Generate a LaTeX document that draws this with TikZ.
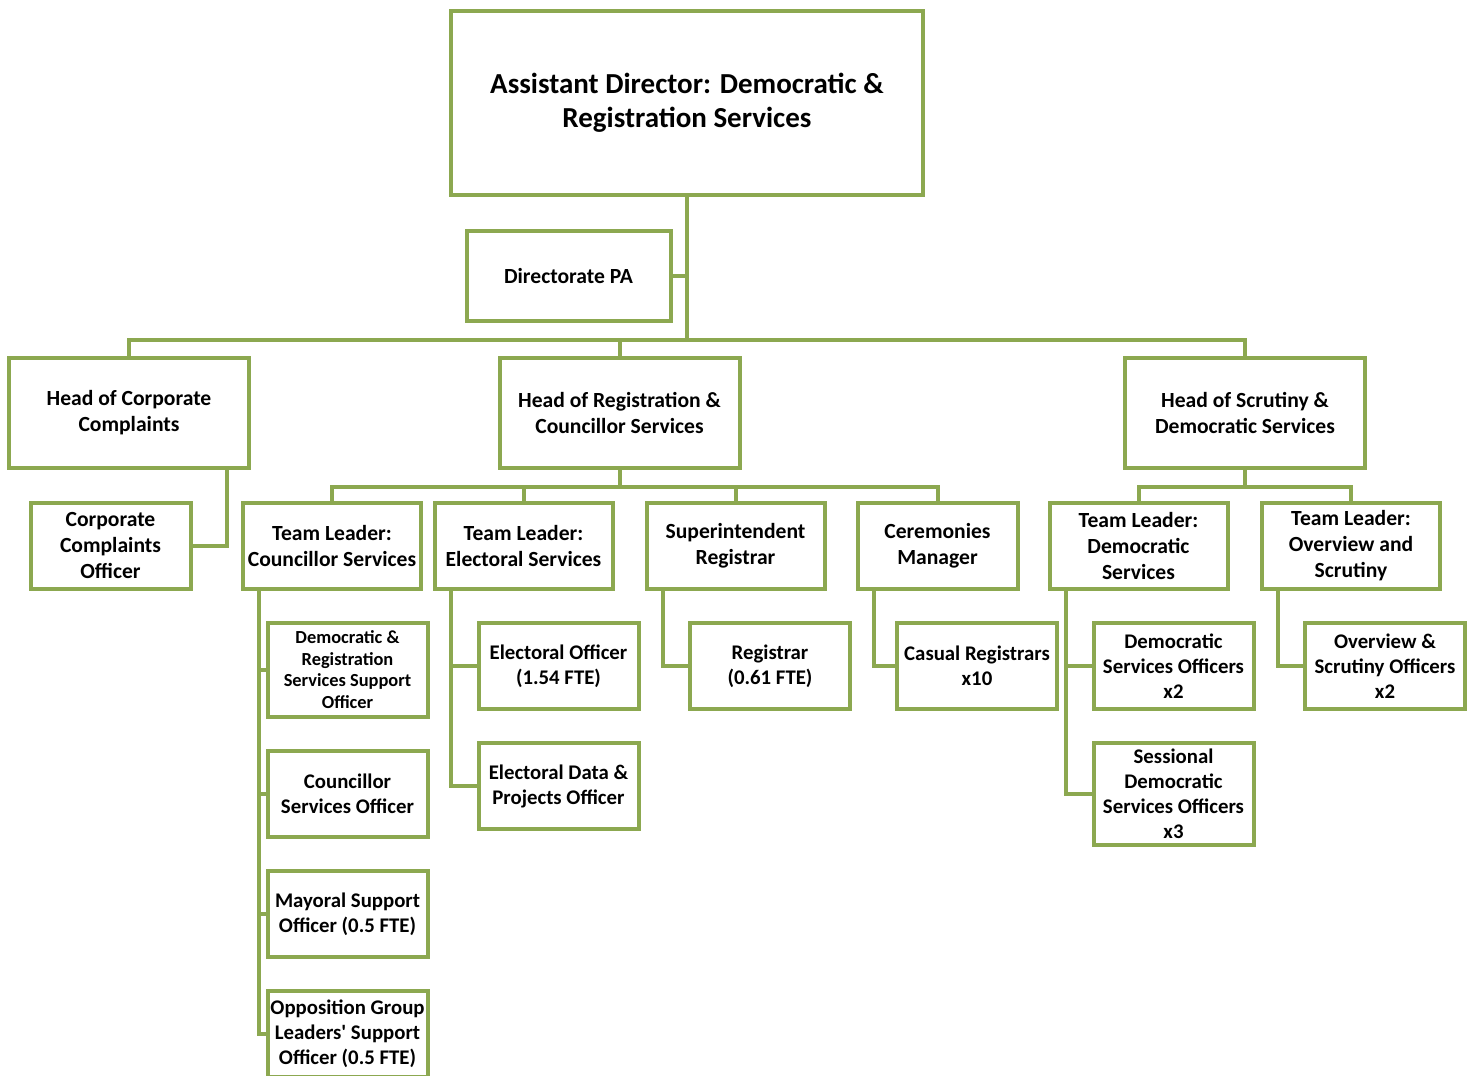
\documentclass[tikz,border=0pt]{standalone}
\usepackage{fontspec}
\setmainfont{Carlito}
\usepackage{xcolor}
\usepackage{tikz}
\usetikzlibrary{calc, positioning}

\definecolor{boxgreen}{RGB}{140,168,80}

\begin{document}
\begin{tikzpicture}[x=0.5pt, y=-0.5pt,
    box/.style={draw=boxgreen, line width=2pt, fill=white, align=center,
        inner sep=0pt, font=\bfseries\fontsize{10.8}{13}\selectfont},
    smallbox/.style={box, minimum width=80pt, minimum height=43pt,
        font=\bfseries\fontsize{10.4}{12.5}\selectfont},
    conn/.style={draw=boxgreen, line width=2pt}]

    \useasboundingbox (0,0) rectangle (1476,1075);

    % =================================================================
    % 1. TOP LEVEL
    % =================================================================
    \node[box, minimum width=236pt, minimum height=92pt,
        font=\bfseries\fontsize{14.5}{17}\selectfont] (ad) at (687,103)
        {Assistant Director: Democratic \&\\Registration Services};
    \node[box, minimum width=102pt, minimum height=45pt] (pa) at (568.5,276) {Directorate PA};

    % =================================================================
    % 2. HEADS OF SERVICE
    % =================================================================
    \node[box, minimum width=120pt, minimum height=55pt] (hcc) at (129,412.5)
        {Head of Corporate\\Complaints};
    \node[box, minimum width=120pt, minimum height=55pt] (hrc) at (619.5,412.5)
        {Head of Registration \&\\Councillor Services};
    \node[box, minimum width=120pt, minimum height=55pt] (hsd) at (1245,412.5)
        {Head of Scrutiny \&\\Democratic Services};

    % =================================================================
    % 3. TEAM LEADERS
    % =================================================================
    \node[box, minimum width=80pt, minimum height=43pt] (cco) at (110.5,545.5)
        {Corporate\\Complaints\\Officer};
    \node[box, minimum width=89pt, minimum height=43pt] (tlc) at (332,545.5)
        {Team Leader:\\Councillor Services};
    \node[box, minimum width=89pt, minimum height=43pt] (tle) at (523.5,545.5)
        {Team Leader:\\Electoral Services};
    \node[box, minimum width=89pt, minimum height=43pt] (sr) at (735.5,545.5)
        {Superintendent\\Registrar};
    \node[box, minimum width=80pt, minimum height=43pt] (cm) at (937.5,545.5)
        {Ceremonies\\Manager};
    \node[box, minimum width=89pt, minimum height=43pt] (tld) at (1138.5,545.5)
        {Team Leader:\\Democratic\\Services};
    \node[box, minimum width=89pt, minimum height=43pt] (tlo) at (1351,545.5)
        {Team Leader:\\Overview and\\Scrutiny};

    % =================================================================
    % 4. OFFICERS
    % =================================================================
    % Councillor services
    \node[smallbox, minimum height=47pt, font=\bfseries\fontsize{9.2}{10.75}\selectfont] (drs) at (347.5,669.5)
        {Democratic \&\\Registration\\Services Support\\Officer};
    \node[smallbox] (cso) at (347.5,794) {Councillor\\Services Officer};
    \node[smallbox] (mso) at (347.5,914) {Mayoral Support\\Officer (0.5 FTE)};
    \node[smallbox] (ogl) at (347.5,1034)
        {Opposition Group\\Leaders\textquotesingle{} Support\\Officer (0.5 FTE)};

    % Electoral services
    \node[smallbox] (eo) at (558.5,666) {Electoral Officer\\(1.54 FTE)};
    \node[smallbox] (edp) at (558.5,786) {Electoral Data \&\\Projects Officer};

    % Registration
    \node[smallbox] (reg) at (770,666) {Registrar\\(0.61 FTE)};
    \node[smallbox] (casual) at (977,666) {Casual Registrars\\x10};

    % Democratic services
    \node[smallbox] (dso) at (1173.5,666) {Democratic\\Services Officers\\x2};
    \node[smallbox, minimum height=51pt] (sdso) at (1173.5,794)
        {Sessional\\Democratic\\Services Officers\\x3};
    \node[smallbox] (oso) at (1385,666) {Overview \&\\Scrutiny Officers\\x2};

    % =================================================================
    % 5. CONNECTORS
    % =================================================================
    \coordinate (bus1) at (687,340);
    \coordinate (bus2) at (619.5,487);
    \coordinate (bus3) at (1245,487);

    \draw[conn] (ad.south) -- (bus1);
    \draw[conn] (pa.east) -- (pa.east -| ad.south);
    \draw[conn] (bus1) -| (hcc.north);
    \draw[conn] (bus1) -| (hrc.north);
    \draw[conn] (bus1) -| (hsd.north);

    \draw[conn] ([xshift=-12pt]hcc.south east) |- (cco.east);

    \draw[conn] (hrc.south) -- (bus2);
    \draw[conn] (bus2) -| (tlc.north);
    \draw[conn] (bus2) -| (tle.north);
    \draw[conn] (bus2) -| (sr.north);
    \draw[conn] (bus2) -| (cm.north);

    \draw[conn] (hsd.south) -- (bus3);
    \draw[conn] (bus3) -| (tld.north);
    \draw[conn] (bus3) -| (tlo.north);

    % Team leaders down to officers
    \foreach \o in {drs, cso, mso, ogl}
        \draw[conn] ([xshift=9pt]tlc.south west) |- (\o.west);
    \foreach \o in {eo, edp}
        \draw[conn] ([xshift=9pt]tle.south west) |- (\o.west);
    \draw[conn] ([xshift=9pt]sr.south west) |- (reg.west);
    \draw[conn] ([xshift=9pt]cm.south west) |- (casual.west);
    \foreach \o in {dso, sdso}
        \draw[conn] ([xshift=9pt]tld.south west) |- (\o.west);
    \draw[conn] ([xshift=9pt]tlo.south west) |- (oso.west);

\end{tikzpicture}
\end{document}
